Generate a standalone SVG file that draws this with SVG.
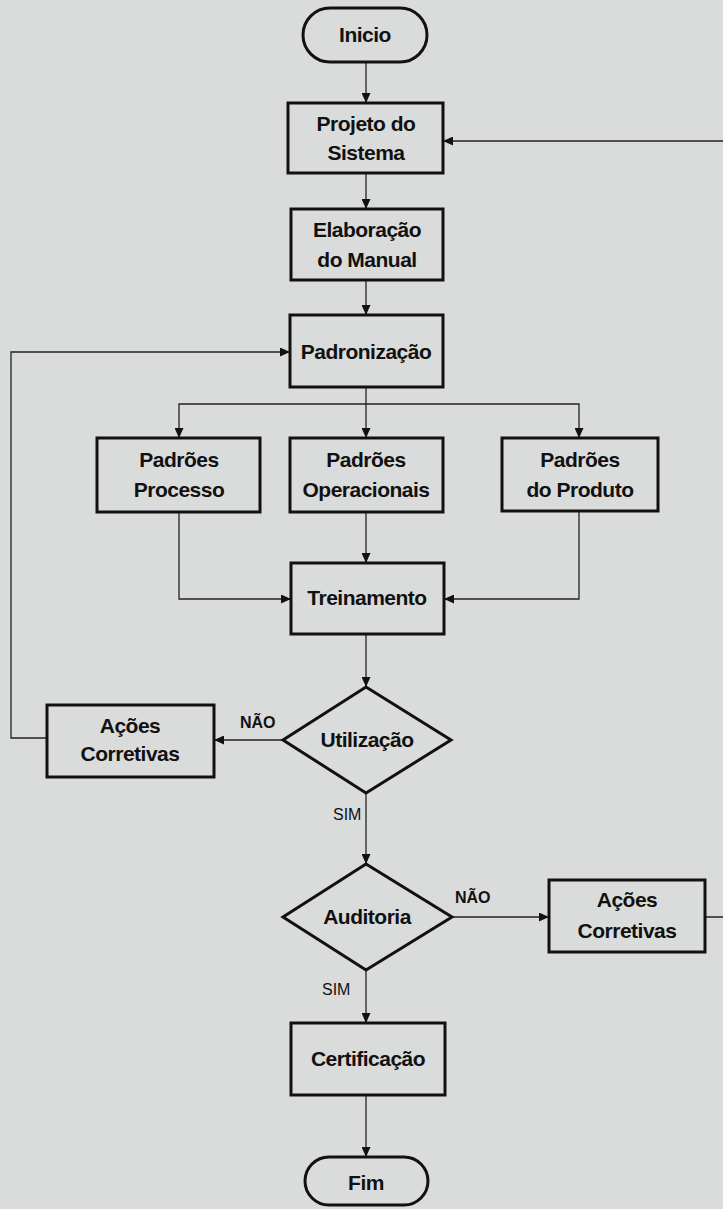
<svg xmlns="http://www.w3.org/2000/svg" width="723" height="1209" viewBox="0 0 723 1209">
  <defs>
    <marker id="arrow" markerUnits="userSpaceOnUse" markerWidth="11" markerHeight="9" refX="10" refY="4.5" orient="auto">
      <path d="M0,0 L10,4.5 L0,9 z" fill="#111"/>
    </marker>
    <style>
      .shape { fill: #dadcdb; stroke: #111; stroke-width: 3; }
      .conn { fill: none; stroke: #222; stroke-width: 1.3; marker-end: url(#arrow); }
      text { font-family: "Liberation Sans", Arial, sans-serif; fill: #111; }
      .lbl { font-size: 21px; font-weight: bold; text-anchor: middle; letter-spacing: -0.5px; }
      .no { font-size: 16px; font-weight: bold; }
      .yes { font-size: 16px; }
    </style>
  </defs>

  <rect width="723" height="1209" fill="#dadcdb"/>

  <!-- connectors and branch labels -->
  <g id="connectors">
    <path class="conn" d="M366,62 V103"/>
    <path class="conn" d="M366,173 V209"/>
    <path class="conn" d="M366,280 V315"/>
    <path class="conn" d="M366,387 V438"/>
    <path class="conn" d="M366,404 H179 V438"/>
    <path class="conn" d="M366,404 H579 V438"/>
    <path class="conn" d="M179,512 V599 H291"/>
    <path class="conn" d="M579,511 V599 H444"/>
    <path class="conn" d="M366,512 V563"/>
    <path class="conn" d="M366,634 V687"/>
    <path class="conn" d="M283,740 H214"/>
    <path class="conn" d="M47,738 H11 V352 H290"/>
    <path class="conn" d="M366,793 V864"/>
    <path class="conn" d="M452,917 H549"/>
    <path class="conn" d="M705,917 H730 V141 H443"/>
    <path class="conn" d="M366,970 V1023"/>
    <path class="conn" d="M366,1095 V1157"/>
    <text class="no" x="240" y="728">NÃO</text>
    <text class="yes" x="333" y="820">SIM</text>
    <text class="no" x="455" y="903">NÃO</text>
    <text class="yes" x="322" y="995">SIM</text>
  </g>

  <g id="inicio">
    <rect class="shape" x="303" y="8" width="124" height="54" rx="27"/>
    <text class="lbl" x="365" y="42">Inicio</text>
  </g>

  <g id="projeto">
    <rect class="shape" x="288" y="103" width="155" height="70"/>
    <text class="lbl" x="366" y="131">Projeto do</text>
    <text class="lbl" x="366" y="160">Sistema</text>
  </g>

  <g id="elaboracao">
    <rect class="shape" x="291" y="209" width="152" height="71"/>
    <text class="lbl" x="367" y="237">Elaboração</text>
    <text class="lbl" x="367" y="267">do Manual</text>
  </g>

  <g id="padronizacao">
    <rect class="shape" x="290" y="315" width="153" height="72"/>
    <text class="lbl" x="366" y="359">Padronização</text>
  </g>

  <g id="padroes-processo">
    <rect class="shape" x="97" y="438" width="163" height="74"/>
    <text class="lbl" x="179" y="467">Padrões</text>
    <text class="lbl" x="179" y="497">Processo</text>
  </g>

  <g id="padroes-operacionais">
    <rect class="shape" x="290" y="438" width="153" height="74"/>
    <text class="lbl" x="366" y="467">Padrões</text>
    <text class="lbl" x="366" y="497">Operacionais</text>
  </g>

  <g id="padroes-produto">
    <rect class="shape" x="502" y="438" width="156" height="73"/>
    <text class="lbl" x="580" y="467">Padrões</text>
    <text class="lbl" x="580" y="497">do Produto</text>
  </g>

  <g id="treinamento">
    <rect class="shape" x="291" y="563" width="153" height="71"/>
    <text class="lbl" x="367" y="605">Treinamento</text>
  </g>

  <g id="utilizacao">
    <polygon class="shape" points="366,687 451,740 366,793 283,740"/>
    <text class="lbl" x="367" y="747">Utilização</text>
  </g>

  <g id="acoes-corretivas-1">
    <rect class="shape" x="47" y="705" width="167" height="72"/>
    <text class="lbl" x="130" y="733">Ações</text>
    <text class="lbl" x="130" y="761">Corretivas</text>
  </g>

  <g id="auditoria">
    <polygon class="shape" points="366,864 452,917 366,970 283,917"/>
    <text class="lbl" x="367" y="924">Auditoria</text>
  </g>

  <g id="acoes-corretivas-2">
    <rect class="shape" x="549" y="880" width="156" height="72"/>
    <text class="lbl" x="627" y="907">Ações</text>
    <text class="lbl" x="627" y="938">Corretivas</text>
  </g>

  <g id="certificacao">
    <rect class="shape" x="291" y="1023" width="154" height="72"/>
    <text class="lbl" x="368" y="1066">Certificação</text>
  </g>

  <g id="fim">
    <rect class="shape" x="305" y="1157" width="123" height="48" rx="24"/>
    <text class="lbl" x="366" y="1190">Fim</text>
  </g>
</svg>
